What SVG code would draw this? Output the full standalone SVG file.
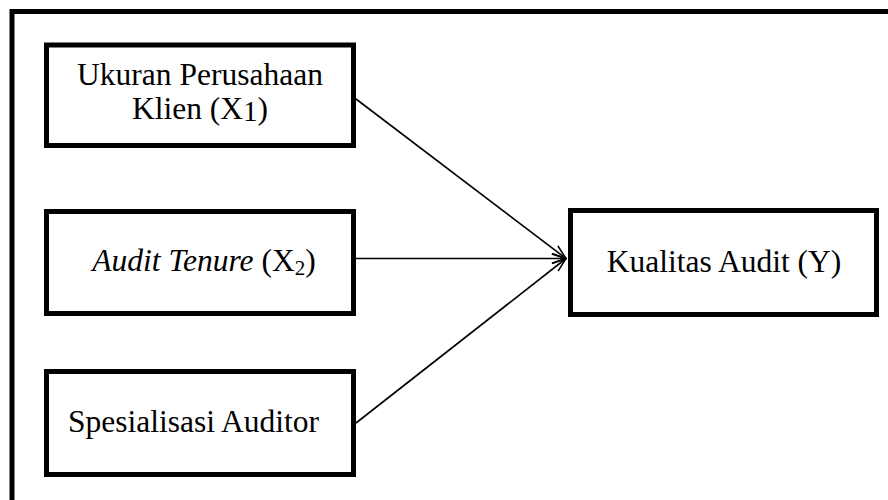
<svg xmlns="http://www.w3.org/2000/svg" width="888" height="500" viewBox="0 0 888 500">
<defs>
<style>
.box{fill:#fff;stroke:#000;stroke-width:5}
.frame{fill:none;stroke:#000;stroke-width:5}
.t{font-family:"Liberation Serif","Times New Roman",serif;font-size:31.5px;fill:#000;text-anchor:middle}
.conn{stroke:#000;stroke-width:1.6;fill:none;marker-end:url(#arr)}
</style>
<marker id="arr" viewBox="0 0 16 12" refX="15" refY="6" markerWidth="16" markerHeight="12" markerUnits="userSpaceOnUse" orient="auto">
<path d="M1,1 L15,6 L1,11" fill="none" stroke="#000" stroke-width="1.6"/>
</marker>
</defs>
<rect width="888" height="500" fill="#fff"/>
<rect class="frame" x="12" y="11.5" width="900" height="520"/>
<g id="connectors">
<line class="conn" x1="356" y1="99" x2="566" y2="258.5"/>
<line class="conn" x1="356" y1="258.5" x2="566" y2="258.5"/>
<line class="conn" x1="356" y1="423" x2="566" y2="258.5"/>
</g>
<g id="x1">
<rect class="box" x="46.5" y="45" width="307" height="100.5"/>
<text class="t" x="200" y="84.5">Ukuran Perusahaan</text>
<text class="t" x="200" y="118.5">Klien (X<tspan font-size="29" dy="2">1</tspan><tspan dy="-2">)</tspan></text>
</g>
<g id="x2">
<rect class="box" x="46.5" y="211.5" width="307" height="102"/>
<text class="t" x="204" y="271"><tspan font-style="italic">Audit Tenure</tspan> (X<tspan font-size="21" dy="4">2</tspan><tspan dy="-4">)</tspan></text>
</g>
<g id="x3">
<rect class="box" x="46.5" y="371.5" width="307" height="103"/>
<text class="t" x="193.5" y="432">Spesialisasi Auditor</text>
</g>
<g id="y">
<rect class="box" x="570.5" y="210.5" width="306" height="104"/>
<text class="t" x="724" y="271.5">Kualitas Audit (Y)</text>
</g>
</svg>
